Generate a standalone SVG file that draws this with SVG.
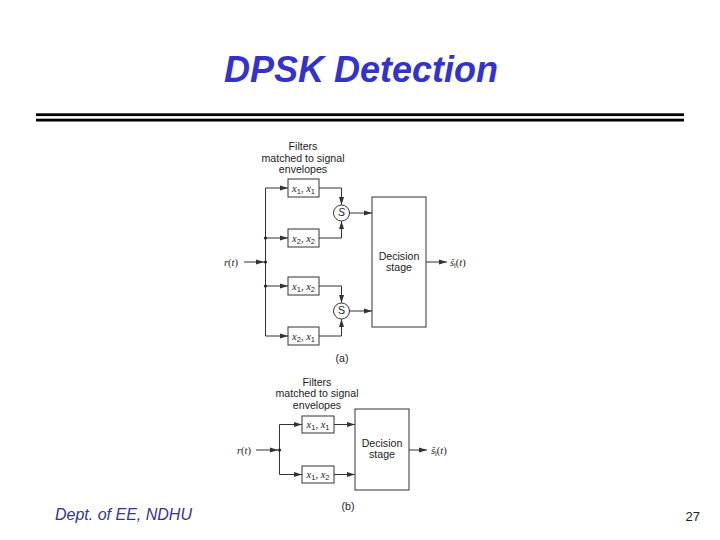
<svg xmlns="http://www.w3.org/2000/svg" width="720" height="540" viewBox="0 0 720 540">
<defs>
<style>
.box{fill:#fff;stroke:#333;stroke-width:1}
.ln{fill:none;stroke:#333;stroke-width:1}
.arr{marker-end:url(#ah)}
.lbl{font-family:"Liberation Sans",Arial,sans-serif;font-size:10.6px;fill:#222;text-anchor:middle}
.math{font-family:"Liberation Serif","Times New Roman",serif;font-style:italic;font-size:10.5px;fill:#222}
.mc{text-anchor:middle}
.sub{font-size:7.5px;font-style:normal;font-family:"Liberation Sans",Arial,sans-serif}
.dot{fill:#222}
</style>
<marker id="ah" viewBox="0 0 8 6" refX="8" refY="3" markerWidth="8" markerHeight="6" markerUnits="userSpaceOnUse" orient="auto">
<path d="M0,0.5 L8,3 L0,5.5 z" fill="#333"/>
</marker>
</defs>
<rect width="720" height="540" fill="#fff"/>
<g id="title">
<text x="361" y="82" font-family="'Liberation Sans',Arial,sans-serif" font-size="36" font-weight="bold" font-style="italic" fill="#3333cc" text-anchor="middle">DPSK Detection</text>
</g>
<g id="rules">
<rect x="36" y="113.3" width="648" height="2.8" fill="#000"/>
<rect x="36" y="118.7" width="648" height="2.8" fill="#000"/>
</g>
<g id="footer">
<text x="55" y="520" font-family="'Liberation Sans',Arial,sans-serif" font-size="16" font-style="italic" fill="#333399">Dept. of EE, NDHU</text>
<text x="700" y="521" font-family="'Liberation Sans',Arial,sans-serif" font-size="13" fill="#222" text-anchor="end">27</text>
</g>

<g id="connectors">
<path class="ln arr" d="M244,262 H264"/>
<path class="ln arr" d="M265.5,262 V188 H288"/>
<path class="ln arr" d="M265.5,238 H288"/>
<path class="ln arr" d="M265.5,286 H288"/>
<path class="ln arr" d="M265.5,262 V336 H288"/>
<path class="ln arr" d="M319,188 H341.5 V205"/>
<path class="ln arr" d="M319,238 H341.5 V221"/>
<path class="ln arr" d="M349.5,213 H372"/>
<path class="ln arr" d="M319,286 H341.5 V303"/>
<path class="ln arr" d="M319,336 H341.5 V319"/>
<path class="ln arr" d="M349.5,311 H372"/>
<path class="ln arr" d="M426,262 H447"/>
<circle class="dot" cx="265.5" cy="238" r="1.6"/>
<circle class="dot" cx="265.5" cy="262" r="1.6"/>
<circle class="dot" cx="265.5" cy="286" r="1.6"/>
<path class="ln arr" d="M256,450 H278"/>
<path class="ln arr" d="M279.5,450 V424.5 H302"/>
<path class="ln arr" d="M279.5,450 V474.5 H302"/>
<path class="ln arr" d="M334,424.5 H355"/>
<path class="ln arr" d="M334,474.5 H355"/>
<path class="ln arr" d="M409,450 H427"/>
<circle class="dot" cx="279.5" cy="450" r="1.6"/>
</g>

<g id="a-header">
<text class="lbl" x="303" y="150">Filters</text>
<text class="lbl" x="303" y="161.5">matched to signal</text>
<text class="lbl" x="303" y="173">envelopes</text>
</g>
<g id="a-input">
<text class="math" x="224" y="265.5">r<tspan font-style="normal">(</tspan>t<tspan font-style="normal">)</tspan></text>
</g>
<g id="a-f11">
<rect class="box" x="288" y="179" width="31" height="18"/>
<text class="math mc" x="303.5" y="191.5">x<tspan class="sub" dy="2">1</tspan><tspan dy="-2" font-style="normal">, </tspan>x<tspan class="sub" dy="2">1</tspan></text>
</g>
<g id="a-f22">
<rect class="box" x="288" y="229" width="31" height="18"/>
<text class="math mc" x="303.5" y="241.5">x<tspan class="sub" dy="2">2</tspan><tspan dy="-2" font-style="normal">, </tspan>x<tspan class="sub" dy="2">2</tspan></text>
</g>
<g id="a-f12">
<rect class="box" x="288" y="277" width="31" height="18"/>
<text class="math mc" x="303.5" y="289.5">x<tspan class="sub" dy="2">1</tspan><tspan dy="-2" font-style="normal">, </tspan>x<tspan class="sub" dy="2">2</tspan></text>
</g>
<g id="a-f21">
<rect class="box" x="288" y="327" width="31" height="18"/>
<text class="math mc" x="303.5" y="339.5">x<tspan class="sub" dy="2">2</tspan><tspan dy="-2" font-style="normal">, </tspan>x<tspan class="sub" dy="2">1</tspan></text>
</g>
<g id="a-sum1">
<circle class="box" cx="341.5" cy="213" r="8"/>
<text class="lbl" x="341.5" y="216" font-size="8" font-style="italic">S</text>
</g>
<g id="a-sum2">
<circle class="box" cx="341.5" cy="311" r="8"/>
<text class="lbl" x="341.5" y="314" font-size="8">S</text>
</g>
<g id="a-decision">
<rect class="box" x="372" y="197" width="54" height="130"/>
<text class="lbl" x="399" y="259.5">Decision</text>
<text class="lbl" x="399" y="271">stage</text>
</g>
<g id="a-output">
<text class="math" x="450" y="265.5">ŝ<tspan class="sub" dy="2" font-style="italic">i</tspan><tspan dy="-2" font-style="normal">(</tspan>t<tspan font-style="normal">)</tspan></text>
</g>
<g id="a-caption">
<text class="lbl" x="342" y="362">(a)</text>
</g>

<g id="b-header">
<text class="lbl" x="317" y="385.5">Filters</text>
<text class="lbl" x="317" y="397">matched to signal</text>
<text class="lbl" x="317" y="408.5">envelopes</text>
</g>
<g id="b-input">
<text class="math" x="237" y="453.5">r<tspan font-style="normal">(</tspan>t<tspan font-style="normal">)</tspan></text>
</g>
<g id="b-f11">
<rect class="box" x="302" y="416" width="32" height="17"/>
<text class="math mc" x="318" y="428">x<tspan class="sub" dy="2">1</tspan><tspan dy="-2" font-style="normal">, </tspan>x<tspan class="sub" dy="2">1</tspan></text>
</g>
<g id="b-f12">
<rect class="box" x="302" y="466" width="32" height="17"/>
<text class="math mc" x="318" y="478">x<tspan class="sub" dy="2">1</tspan><tspan dy="-2" font-style="normal">, </tspan>x<tspan class="sub" dy="2">2</tspan></text>
</g>
<g id="b-decision">
<rect class="box" x="355" y="409" width="54" height="81"/>
<text class="lbl" x="382" y="446.5">Decision</text>
<text class="lbl" x="382" y="458">stage</text>
</g>
<g id="b-output">
<text class="math" x="431" y="453.5">ŝ<tspan class="sub" dy="2" font-style="italic">i</tspan><tspan dy="-2" font-style="normal">(</tspan>t<tspan font-style="normal">)</tspan></text>
</g>
<g id="b-caption">
<text class="lbl" x="348" y="510">(b)</text>
</g>
</svg>
